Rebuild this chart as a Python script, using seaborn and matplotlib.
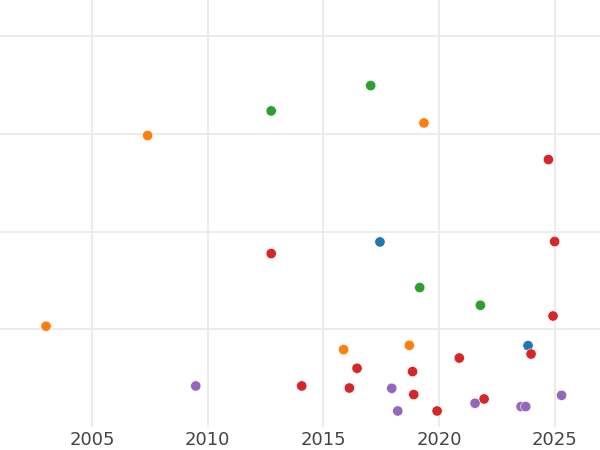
import matplotlib
matplotlib.use("Agg")
import matplotlib.pyplot as plt
import seaborn as sns
import pandas as pd

# values (y has no labels, arbitrary units)
blue_x = [2017.44, 2023.84]
blue_y = [18.94, 8.33]

orange_x = [2007.40, 2019.34, 2003.01, 2015.87, 2018.71]
orange_y = [29.83, 31.12, 10.31, 7.92, 8.36]

green_x = [2012.74, 2017.04, 2019.16, 2021.78]
green_y = [32.35, 34.94, 14.27, 12.46]

red_x = [2024.72, 2012.74, 2024.99, 2024.92, 2023.97, 2020.87, 2016.45,
         2018.85, 2014.06, 2016.12, 2018.90, 2021.94, 2019.91]
red_y = [27.37, 17.75, 18.98, 11.36, 7.47, 7.06, 6.01,
         5.67, 4.20, 3.99, 3.32, 2.87, 1.64]

purple_x = [2009.48, 2017.95, 2018.21, 2021.55, 2023.54, 2023.74, 2025.29]
purple_y = [4.20, 3.96, 1.64, 2.43, 2.09, 2.09, 3.24]

groups = ["A", "B", "C", "D", "E"]
colors = ["#1f77b4", "#ff7f0e", "#2ca02c", "#d62728", "#9467bd"]
x_ticks = [2005, 2010, 2015, 2020, 2025]
y_ticks = [10, 20, 30, 40]

frames = []
for g, xs, ys in zip(groups,
                     [blue_x, orange_x, green_x, red_x, purple_x],
                     [blue_y, orange_y, green_y, red_y, purple_y]):
    frames.append(pd.DataFrame({"year": xs, "value": ys, "group": g}))
df = pd.concat(frames, ignore_index=True)

sns.set_theme(style="whitegrid")
plt.rcParams["font.family"] = ["DejaVu Sans"]

fig = plt.figure(figsize=(6, 4.5), dpi=100)
ax = fig.add_axes([0, 23 / 450, 1, 427 / 450])

sns.scatterplot(data=df, x="year", y="value", hue="group",
                palette=dict(zip(groups, colors)), s=55,
                edgecolor="white", linewidth=0.4, legend=False, ax=ax, zorder=3)

ax.set_xlim(2001.02, 2026.95)
ax.set_ylim(0, 43.7)
ax.set_xticks(x_ticks)
ax.set_yticks(y_ticks)
ax.set_yticklabels([])
ax.set_xlabel("")
ax.set_ylabel("")
ax.grid(True, color="#ebebeb", linewidth=1.3)
ax.tick_params(axis="x", labelsize=13, labelcolor="#444444", length=0, pad=3)
ax.tick_params(axis="y", length=0)
for s in ax.spines.values():
    s.set_visible(False)

fig.savefig("out.png", dpi=100)
